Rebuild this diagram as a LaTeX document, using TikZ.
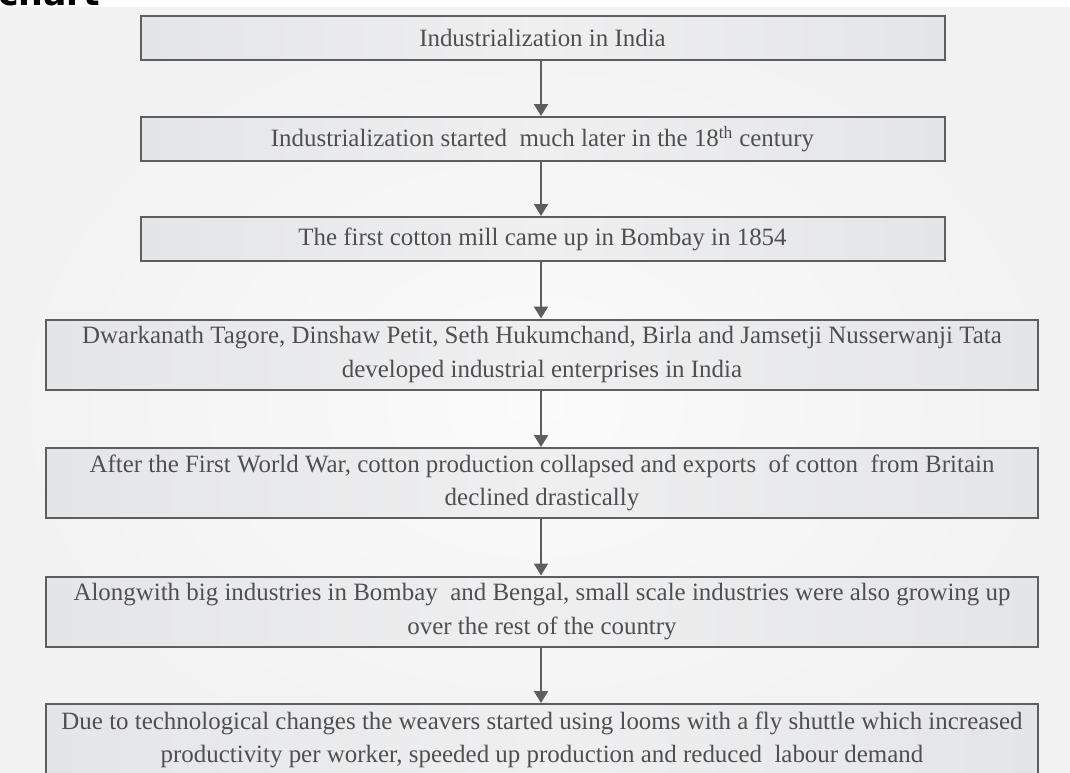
\documentclass[tikz,border=0pt]{standalone}
\usepackage{fontspec}
\setmainfont{Liberation Serif}
\newfontfamily\headfont{DejaVu Sans}
\usetikzlibrary{arrows.meta}

\definecolor{pageback}{HTML}{F2F2F3}
\definecolor{pagelight}{HTML}{FBFBFB}
\definecolor{boxedge}{HTML}{E4E5E7}
\definecolor{boxmid}{HTML}{EFEFF0}
\definecolor{frame}{HTML}{5E5E5E}
\definecolor{ink}{HTML}{4F4F4F}

% one pixel of the drawing grid is 0.75pt
\tikzset{
  flowbox/.style={draw=frame, line width=1.5pt, shading=axis, shading angle=90,
    left color=boxedge, right color=boxedge, middle color=boxmid,
    text=ink, align=center, inner sep=0pt,
    font=\fontsize{18.7}{24.8}\selectfont},
  narrowbox/.style={flowbox, minimum width=603pt, minimum height=33pt},
  widebox/.style={flowbox, minimum width=743.5pt, minimum height=52.5pt},
  flowarrow/.style={draw=frame, line width=1.5pt,
    -{Triangle[width=10.5pt,length=9pt]}},
}

\begin{document}
\begin{tikzpicture}[x=0.75pt, y=-0.75pt]
  \useasboundingbox (0,0) rectangle (1070,772);
  \clip (0,0) rectangle (1070,772);

  % page backdrop
  \fill[white] (0,0) rectangle (1070,772);
  \shade[inner color=pagelight, outer color=pageback] (0,7) rectangle (1070,800);

  % heading, cut by the top edge
  \node[anchor=base west, inner sep=0pt, text=black,
        font=\headfont\fontsize{26}{26}\bfseries\selectfont] (head) at (-2,5) {chart};

  % flow boxes
  \node[narrowbox] (b1) at (542.5,38) {Industrialization in India};
  \node[narrowbox] (b2) at (542.5,139) {Industrialization started\ \ much later in the 18\textsuperscript{th} century};
  \node[narrowbox] (b3) at (542.5,239) {The first cotton mill came up in Bombay in 1854};
  \node[widebox] (b4) at (542,354.5) {Dwarkanath Tagore, Dinshaw Petit, Seth Hukumchand, Birla and Jamsetji Nusserwanji Tata\\developed industrial enterprises in India};
  \node[widebox] (b5) at (542,483) {After the First World War, cotton production collapsed and exports\ \ of cotton\ \ from Britain\\declined drastically};
  \node[widebox] (b6) at (542,611.5) {Alongwith big industries in Bombay\ \ and Bengal, small scale industries were also growing up\\over the rest of the country};
  \node[widebox, minimum height=54pt] (b7) at (542,740) {Due to technological changes the weavers started using looms with a fly shuttle which increased\\productivity per worker, speeded up production and reduced\ \ labour demand};

  % connectors
  \foreach \a/\b in {b1/b2, b2/b3, b3/b4, b4/b5, b5/b6, b6/b7}
    \draw[flowarrow] (\a.south -| 541,0) -- (\b.north -| 541,0);
\end{tikzpicture}
\end{document}
